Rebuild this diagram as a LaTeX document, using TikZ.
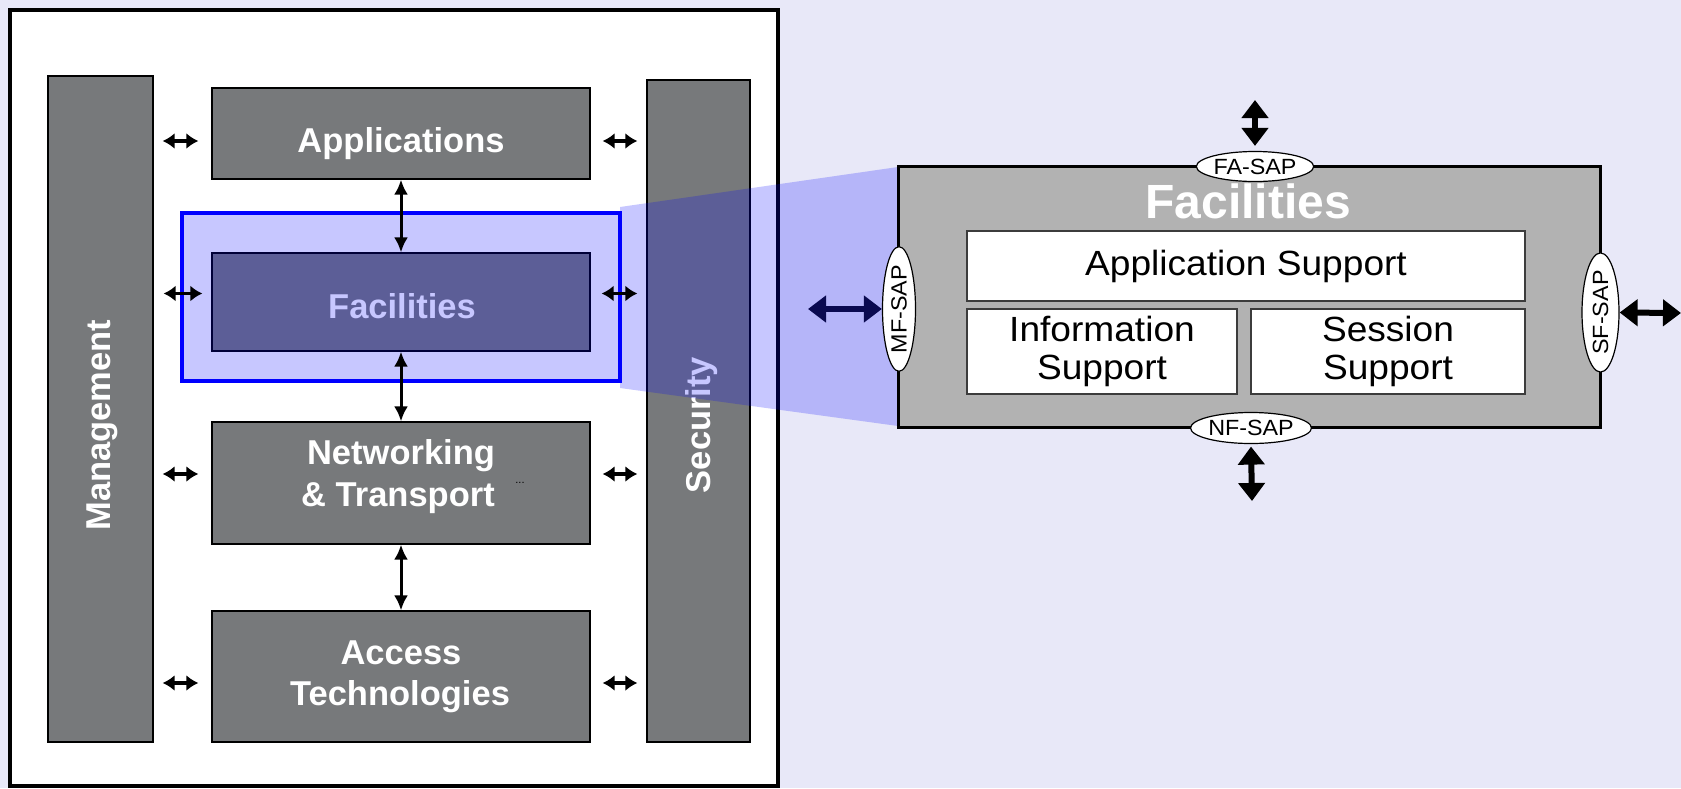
\documentclass[tikz,border=0pt]{standalone}
\usepackage{fontspec}
\setmainfont{Liberation Sans}
\newfontfamily\rfont[FakeStretch=1.06]{Liberation Sans}
\usetikzlibrary{arrows.meta,calc,fit,shapes.geometric}
\definecolor{bgc}{RGB}{232,232,248}
\definecolor{boxgray}{RGB}{119,121,123}
\definecolor{biggray}{RGB}{178,178,178}
\definecolor{hlblue}{RGB}{0,0,255}
\definecolor{navyc}{RGB}{10,10,80}
\definecolor{wborder}{RGB}{60,60,60}
\begin{document}
\begin{tikzpicture}[x=1pt,y=-1pt,
  gbox/.style={draw=black, line width=1.2pt, fill=boxgray, inner sep=0pt},
  wbox/.style={draw=wborder, line width=1.5pt, fill=white, inner sep=0pt},
  lblw/.style={text=white, font=\fontsize{34.5}{40}\selectfont\bfseries, anchor=base, inner sep=0pt},
  lblb/.style={text=black, font=\rfont\fontsize{35}{40}\selectfont, anchor=base, inner sep=0pt},
  sap/.style={ellipse, draw=black, line width=1.2pt, fill=white, inner sep=0pt, font=\rfont\fontsize{22}{26}\selectfont},
  sarr/.style={line width=3.5pt, {Latex[length=12pt,width=16pt]}-{Latex[length=12pt,width=16pt]}},
  varr/.style={line width=3pt, {Latex[length=15pt,width=14pt]}-{Latex[length=15pt,width=14pt]}},
  barr/.style={line width=6pt, {Triangle[length=18pt,width=26pt]}-{Triangle[length=18pt,width=26pt]}}
]
\useasboundingbox (0,0) rectangle (1681,788);
\fill[bgc] (0,0) rectangle (1681,788);
% outer panel
\node[draw=black, line width=4pt, fill=white, inner sep=0pt, fit={(10,10) (778,786)}] (outer) {};
% bars and boxes
\node[gbox, fit={(48,76) (153,742)}] (mgmt) {};
\node[gbox, fit={(647,80) (750,742)}] (sec) {};
\node[gbox, fit={(212,88) (590,179)}] (app) {};
\node[gbox, fit={(212,253) (590,351)}] (fac) {};
\node[gbox, fit={(212,422) (590,544)}] (net) {};
\node[gbox, fit={(212,611) (590,742)}] (acc) {};
% labels
\node[lblw, rotate=90] (mgmtlbl) at (110,425) {Management};
\node[lblw, rotate=90] (seclbl) at (710,425) {Security};
\node[lblw] (applbl) at (401,152) {Applications};
\node[lblw] (faclbl) at (402,318) {Facilities};
\node[lblw] (netlbl1) at (401,464) {Networking};
\node[lblw] (netlbl2) at (398,506) {\& Transport};
\node[lblw] (acclbl1) at (401,664) {Access};
\node[lblw] (acclbl2) at (400,705) {Technologies};
\node[font=\fontsize{11}{12}\selectfont, anchor=base, inner sep=0pt] (dots) at (520,483) {...};
% highlight overlay
\fill[hlblue, opacity=0.22] (620,207) -- (898,167) -- (898,426) -- (620,388) -- cycle;
\node[draw=hlblue, line width=4pt, fill=hlblue, fill opacity=0.22, inner sep=0pt, fit={(182,213) (620,381)}] (hl) {};
% left panel arrows
\draw[sarr] ($(mgmt.east|-app.west)+(9,7.5)$) -- ($(app.west)+(-13,7.5)$);
\draw[sarr] ($(mgmt.east|-fac.west)+(10,-8.5)$) -- ($(fac.west)+(-9,-8.5)$);
\draw[sarr] ($(mgmt.east|-net.west)+(9,-9)$) -- ($(net.west)+(-13,-9)$);
\draw[sarr] ($(mgmt.east|-acc.west)+(9,6.5)$) -- ($(acc.west)+(-13,6.5)$);
\draw[sarr] ($(app.east)+(12,7.5)$) -- ($(sec.west|-app.east)+(-9,7.5)$);
\draw[sarr] ($(fac.east)+(11,-8.5)$) -- ($(sec.west|-fac.east)+(-9,-8.5)$);
\draw[sarr] ($(net.east)+(12,-9)$) -- ($(sec.west|-net.east)+(-9,-9)$);
\draw[sarr] ($(acc.east)+(12,6.5)$) -- ($(sec.west|-acc.east)+(-9,6.5)$);
\draw[varr] (app.south) -- (fac.north);
\draw[varr] (fac.south) -- (net.north);
\draw[varr] (net.south) -- (acc.north);
% right facilities box
\node[draw=black, line width=3pt, fill=biggray, inner sep=0pt, fit={(898,166) (1600,427)}] (big) {};
\node[text=white, font=\fontsize{48}{56}\selectfont\bfseries, anchor=base, inner sep=0pt] (bigt) at (1248,218) {Facilities};
\node[wbox, fit={(967,231) (1525,301)}] (as) {};
\node[wbox, fit={(967,309) (1237,394)}] (is) {};
\node[wbox, fit={(1251,309) (1525,394)}] (ss) {};
\node[lblb] (aslbl) at (1246,275) {Application Support};
\node[lblb] (islbl1) at (1102,341) {Information};
\node[lblb] (islbl2) at (1102,379) {Support};
\node[lblb] (sslbl1) at (1388,341) {Session};
\node[lblb] (sslbl2) at (1388,379) {Support};
% SAPs
\node[sap, minimum width=115, minimum height=30] (fa) at (1255,166.5) {FA-SAP};
\node[sap, minimum width=113, minimum height=31] (nf) at (1251,428) {NF-SAP};
\node[sap, rotate=90, minimum width=107, minimum height=33] (mf) at (899,309) {MF-SAP};
\node[sap, rotate=90, minimum width=108, minimum height=37] (sf) at (1600.5,312.5) {SF-SAP};
% big arrows
\coordinate (fatop) at (1255,100);
\coordinate (nfbot) at (1252,501);
\coordinate (mfl) at (808,309);
\coordinate (sfr) at (1681,313);
\draw[barr] (fatop) -- ([yshift=5pt]fa.north);
\draw[barr] ([yshift=-2.5pt]nf.south) -- (nfbot);
\draw[barr, draw=navyc] (mfl) -- (mf.north);
\draw[barr] (sf.south) -- (sfr);
\end{tikzpicture}
\end{document}
